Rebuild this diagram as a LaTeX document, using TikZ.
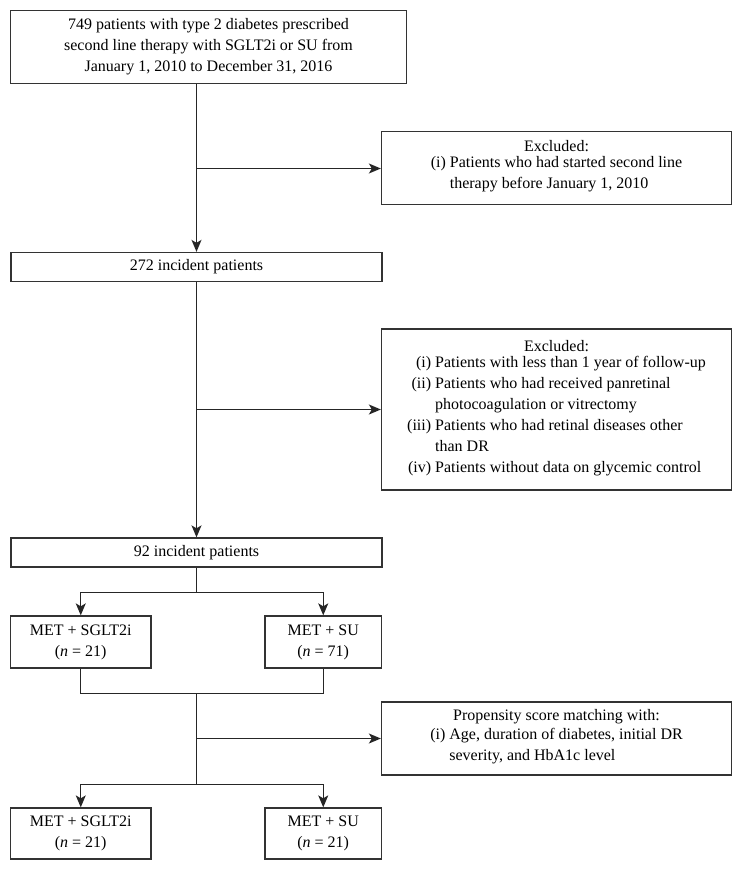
\documentclass[tikz,border=0pt]{standalone}
\usepackage{fontspec}
\setmainfont{Liberation Serif}
\usetikzlibrary{arrows.meta}

\begin{document}
\begin{tikzpicture}[x=1pt,y=-1pt,
		flowbox/.style={draw=black!80,line width=1.3pt,inner sep=0pt,align=center,
			font=\fontsize{16}{21}\selectfont},
		link/.style={line width=1.3pt,black!85},
		arr/.style={link,-{Stealth[length=12pt,width=10pt,inset=3pt]}}]
		\useasboundingbox (0,0) rectangle (742,870);

		\node[flowbox,minimum width=396pt,minimum height=72.5pt] (start) at (208.5,47) {749 patients with type 2 diabetes prescribed\\second line therapy with SGLT2i or SU from\\January 1, 2010 to December 31, 2016};
		\node[flowbox,minimum width=350pt,minimum height=73pt] (excl1) at (556.5,168) {Excluded:\\\begin{tabular}{@{}r@{~}l@{}}(i) & Patients who had started second line\\ & therapy before January 1, 2010\end{tabular}};

		\node[flowbox,minimum width=371pt,minimum height=29pt] (inc272) at (196.5,267) {272 incident patients};
		\node[flowbox,minimum width=350pt,minimum height=161pt] (excl2) at (556.5,409.5) {Excluded:\\\begin{tabular}{@{}r@{~}l@{}}(i) & Patients with less than 1 year of follow-up\\(ii) & Patients who had received panretinal\\ & photocoagulation or vitrectomy\\(iii) & Patients who had retinal diseases other\\ & than DR\\(iv) & Patients without data on glycemic control\end{tabular}};

		\node[flowbox,minimum width=371pt,minimum height=29pt] (inc92) at (196.5,552.5) {92 incident patients};
		\node[flowbox,minimum width=140.5pt,minimum height=52pt] (sglA) at (80.75,642) {MET + SGLT2i\\(\textit{n} = 21)};
		\node[flowbox,minimum width=116.5pt,minimum height=52pt] (suA) at (323.25,642) {MET + SU\\(\textit{n} = 71)};

		\node[flowbox,minimum width=350pt,minimum height=73pt] (psm) at (556.5,738.5) {Propensity score matching with:\\\begin{tabular}{@{}r@{~}l@{}}(i) & Age, duration of diabetes, initial DR\\ & severity, and HbA1c level\end{tabular}};
		\node[flowbox,minimum width=140.5pt,minimum height=51pt] (sglB) at (80.75,833.5) {MET + SGLT2i\\(\textit{n} = 21)};
		\node[flowbox,minimum width=116.5pt,minimum height=51pt] (suB) at (323.25,833.5) {MET + SU\\(\textit{n} = 21)};

		\coordinate (j1) at (196.5,168.5);
		\coordinate (j2) at (196.5,409.5);
		\coordinate (s1) at (196.5,592.5);
		\coordinate (j3) at (196.5,693.5);
		\coordinate (j4) at (196.5,738.5);
		\coordinate (s2) at (196.5,784.5);

		\draw[arr] (inc272.north |- start.south) to (inc272.north);
		\draw[arr] (j1) to (excl1.west |- j1);
		\draw[arr] (inc272.south) to (inc92.north);
		\draw[arr] (j2) to (excl2.west);
		\draw[link] (inc92.south) to (s1);
		\draw[arr] (s1) -| (sglA.north); \draw[arr] (s1) -| (suA.north);
		\draw[link] (sglA.south) |- (j3) -| (suA.south);
		\draw[link] (j3) to (s2);
		\draw[arr] (j4) to (psm.west);
		\draw[arr] (s2) -| (sglB.north); \draw[arr] (s2) -| (suB.north);
\end{tikzpicture}
\end{document}
